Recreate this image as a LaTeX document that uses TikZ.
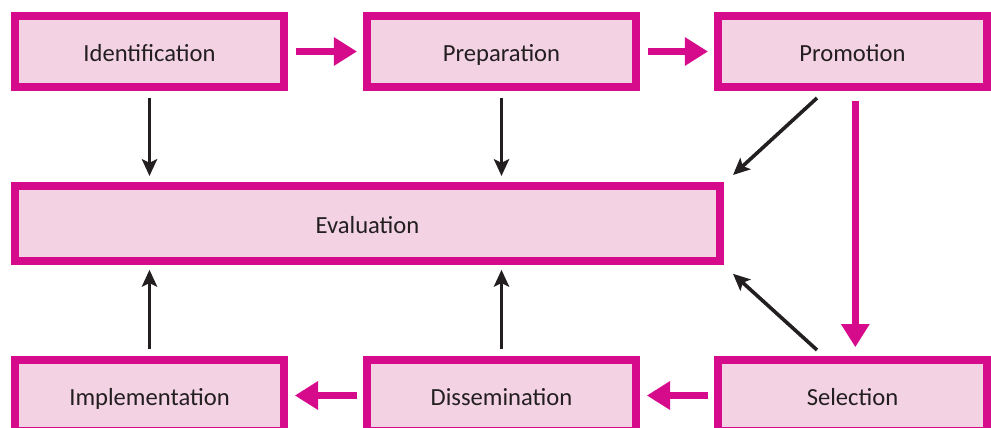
\documentclass[tikz,border=0pt]{standalone}
\usepackage{fontspec}
\setmainfont{Carlito}
\usepackage{tikz}
\usetikzlibrary{arrows.meta, positioning}

\definecolor{magentaline}{RGB}{214,11,140}
\definecolor{pinkfill}{RGB}{243,210,227}
\definecolor{inktext}{RGB}{35,31,32}

\begin{document}
\begin{tikzpicture}[
        % STYLES
        stage/.style={rectangle, draw=magentaline, fill=pinkfill, line width=0.2cm, inner sep=0pt, minimum width=6.725cm, minimum height=1.775cm, text height=0.6cm, text depth=0.1cm, align=center, text=inktext, font=\fontsize{17.5}{20}\selectfont},
        evalbox/.style={stage, minimum width=17.625cm, minimum height=1.875cm},
        % ARROWS
        flow/.style={-{Triangle[length=0.58cm, width=0.68cm]}, line width=0.175cm, magentaline, shorten <=0.2cm, shorten >=0.15cm},
        feed/.style={-{Stealth[length=0.42cm, width=0.38cm, inset=0.09cm]}, line width=0.09cm, inktext, shorten <=0.17cm, shorten >=0.15cm}
    ]
    \clip (0,0) rectangle (24.775,10.675);

    % ===================================
    % 1. Stages
    % ===================================
    \node[stage] (ident) at (3.7375, 9.3875) {Identification};
    \node[stage] (prep) at (12.5375, 9.3875) {Preparation};
    \node[stage] (promo) at (21.3125, 9.3875) {Promotion};
    \node[evalbox] (eval) at (9.1875, 5.0875) {Evaluation};
    \node[stage] (impl) at (3.7375, 0.7875) {Implementation};
    \node[stage] (diss) at (12.5375, 0.7875) {Dissemination};
    \node[stage] (sel) at (21.3125, 0.7875) {Selection};

    % Sequence (pink)
    \draw[flow] (ident) -- (prep);
    \draw[flow] (prep) -- (promo);
    \draw[flow, shorten <=0.25cm, shorten >=0.22cm] ([xshift=0.07cm]promo.south) -- ([xshift=0.07cm]sel.north);
    \draw[flow, shorten <=0.15cm, shorten >=0.17cm] (sel) -- (diss);
    \draw[flow, shorten <=0.15cm, shorten >=0.17cm] (diss) -- (impl);

    % ===================================
    % 2. Links to evaluation (black)
    % ===================================
    \draw[feed] (ident) -- (ident |- eval.north);
    \draw[feed] (prep.south) -- (prep.south |- eval.north);
    \draw[feed, shorten <=0pt, shorten >=0pt] ([xshift=-0.8875cm, yshift=-0.175cm]promo.south) -- ([xshift=0.225cm, yshift=0.175cm]eval.north east);
    \draw[feed, shorten <=0pt, shorten >=0pt] ([xshift=-0.8875cm, yshift=0.15cm]sel.north) -- ([xshift=0.225cm, yshift=-0.22cm]eval.south east);
    \draw[feed, shorten >=0.12cm] (impl) -- (impl |- eval.south);
    \draw[feed, shorten >=0.12cm] (diss.north) -- (diss.north |- eval.south);

\end{tikzpicture}
\end{document}
